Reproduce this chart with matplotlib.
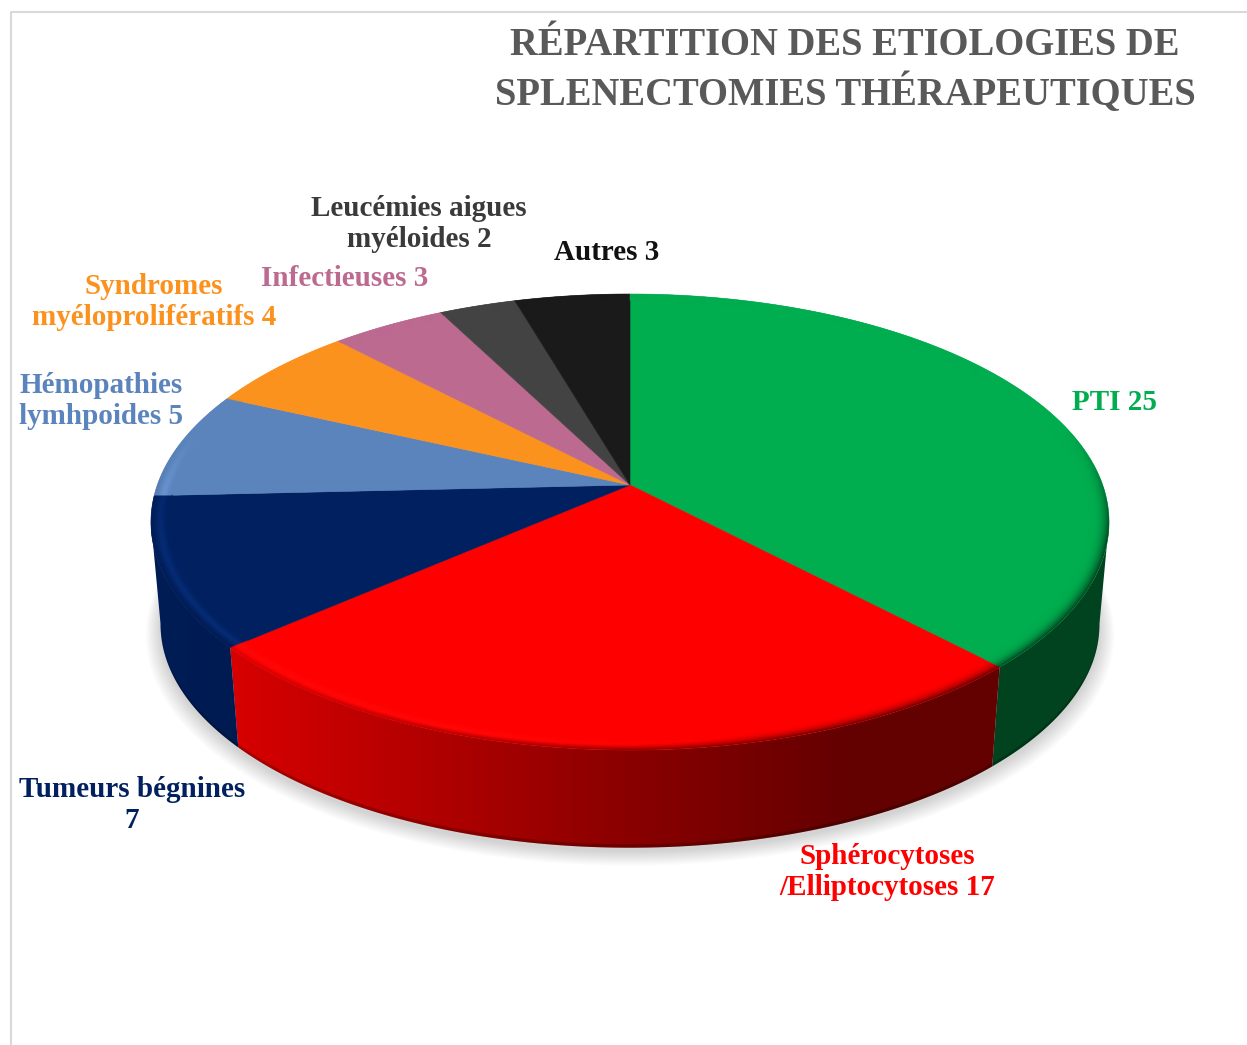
import numpy as np
import matplotlib
matplotlib.use("Agg")
import matplotlib.pyplot as plt
from matplotlib.colors import to_rgb
from matplotlib.patches import Polygon

# ---------- data ----------
title = "RÉPARTITION DES ETIOLOGIES DE\nSPLENECTOMIES THÉRAPEUTIQUES"
categories = ["PTI", "Sphérocytoses\n/Elliptocytoses", "Tumeurs bégnines\n", "Hémopathies\nlymhpoides",
              "Syndromes\nmyéloprolifératifs", "Infectieuses", "Leucémies aigues\nmyéloides", "Autres"]
values = [25, 17, 7, 5, 4, 3, 2, 3]
colors = ["#00AD4F", "#FF0000", "#002060", "#5B84BC", "#FC921E", "#BC6A90", "#434343", "#1A1A1A"]
label_colors = ["#00AD4F", "#FF0000", "#002060", "#5B84BC", "#FC921E", "#BC6A90", "#3A3A3A", "#111111"]
label_pos = [(1114, 403), (887, 872), (132, 805), (101, 401), (154, 302), (345, 278), (419, 224), (607, 252)]

# ---------- pie geometry (in pixels) ----------
W, H = 1247, 1045
CX, CY = 630, 485
K, A, B = 0.1623, 222, 472.7
DEPTH, BOTTOM_SCALE = 103, 0.98
BEVEL = 0.04
X_STOPS = [150, 240, 450, 630, 850, 1100]
S_STOPS = [0.90, 0.84, 0.68, 0.54, 0.39, 0.39]


def project(theta, r=1.0, scale=1.0, dy=0.0):
    x, y = r * np.sin(theta), r * np.cos(theta)
    den = 1 + K * y
    return CX + B * x / den * scale, CY - A * y / den * scale + dy


def shade(X):
    return np.interp(X, X_STOPS, S_STOPS)


fig = plt.figure(figsize=(W / 100, H / 100), dpi=100, facecolor="white")
ax = fig.add_axes([0, 0, 1, 1])
ax.axis("off")

# chart frame
ax.plot([11, 11, W], [H, 12, 12], color="#D9D9D9", lw=1.5, zorder=1)

# soft shadow
full = np.linspace(0, 2 * np.pi, 721)
n_sh = 22
for i in range(n_sh):
    f = 1 - i / (n_sh - 1)
    sx, sy = project(full, scale=BOTTOM_SCALE * (1 + 0.032 * f), dy=DEPTH + 4 + 6 * f)
    ax.fill(sx, sy, color="black", alpha=0.0075, lw=0, zorder=2)

edges = np.cumsum([0] + values) / sum(values) * 2 * np.pi
rgb = np.array([to_rgb(c) for c in colors])
FRONT_LIMIT = np.arccos(-0.16)  # wall only exists on the front half of the disc

grad_x = np.arange(0, W)
for i, base in enumerate(rgb):
    t0, t1 = edges[i], edges[i + 1]
    ts = np.linspace(t0, t1, max(int((t1 - t0) / np.radians(0.5)), 2) + 1)

    # flat top wedge
    tx, ty = project(ts)
    ax.fill(np.r_[CX, tx], np.r_[CY, ty], color=base, lw=0.4, ec=base, zorder=5)

    # outer wall: horizontal gradient clipped to the wall outline
    lo, hi = max(t0, FRONT_LIMIT), min(t1, 2 * np.pi - FRONT_LIMIT)
    if hi <= lo:
        continue
    vis = np.linspace(lo, hi, max(int((hi - lo) / np.radians(0.5)), 3) + 1)
    ux, uy = project(vis)
    lx, ly = project(vis, scale=BOTTOM_SCALE, dy=DEPTH)
    wall = Polygon(np.c_[np.r_[ux, lx[::-1]], np.r_[uy, ly[::-1]]], closed=True, transform=ax.transData,
                   fc="none", ec="none")
    ax.add_patch(wall)
    grad = base[None, None, :] * shade(grad_x)[None, :, None]
    im = ax.imshow(grad, extent=[-0.5, W - 0.5, H, 0], aspect="auto", zorder=4, interpolation="bilinear")
    im.set_clip_path(wall)
    # dark lip along the lower edge of the wall
    mx, my = project(vis, scale=1 + (BOTTOM_SCALE - 1) * 0.965, dy=DEPTH * 0.965)
    ax.fill(np.r_[mx, lx[::-1]], np.r_[my, ly[::-1]], color="black", alpha=0.22, lw=0, zorder=4.5)

# bevel on the rim of the top face, computed per pixel from the same wedges
SS = 2
gx, gy = np.meshgrid((np.arange(W * SS) + 0.5) / SS, (np.arange(H * SS) + 0.5) / SS)
dx, dy = (gx - CX) / B, -(gy - CY) / A
py = dy / (1 - K * dy)
den = 1 + K * py
px = dx * den
rr = np.hypot(px, py)
th = np.mod(np.arctan2(px, py), 2 * np.pi)
idx = np.clip(np.searchsorted(edges, th, side="right") - 1, 0, len(values) - 1)
u = np.clip((rr - (1 - BEVEL)) / BEVEL, 0, 1)
w = np.clip((0.25 - py / np.maximum(rr, 1e-6)) / 0.5, 0, 1)
base_px = rgb[idx]
side_px = base_px * shade(gx)[..., None]
col = base_px + (side_px - base_px) * (w * u ** 3)[..., None]
hl = np.clip((760 - gx) / 300, 0, 1) * w * np.exp(-((u - 0.5) / 0.22) ** 2) * 0.16
col = np.clip(col + hl[..., None] * (col + 0.15), 0, 1)
alpha = ((rr >= 1 - BEVEL) & (rr <= 1.02)).astype(float)
outline_x, outline_y = project(full)
outline = Polygon(np.c_[outline_x, outline_y], closed=True, transform=ax.transData, fc="none", ec="none")
ax.add_patch(outline)
bev = ax.imshow(np.dstack([col, alpha]), extent=[-0.5, W - 0.5, H, 0], aspect="auto", zorder=6,
                interpolation="bilinear")
bev.set_clip_path(outline)

ax.set_xlim(0, W)
ax.set_ylim(H, 0)

# ---------- text ----------
font = "Liberation Serif"
ax.text(845, 70.5, title, ha="center", va="center", family=font, weight="bold",
        fontsize=27.8, color="#595959", linespacing=1.3, zorder=10)
for cat, val, col_, (lx_, ly_) in zip(categories, values, label_colors, label_pos):
    ax.text(lx_, ly_, f"{cat}{'' if cat.endswith(chr(10)) else ' '}{val}", ha="center", va="center",
            family=font, weight="bold", fontsize=21, color=col_, linespacing=1.19, zorder=10)

fig.savefig("out.png", dpi=100)
